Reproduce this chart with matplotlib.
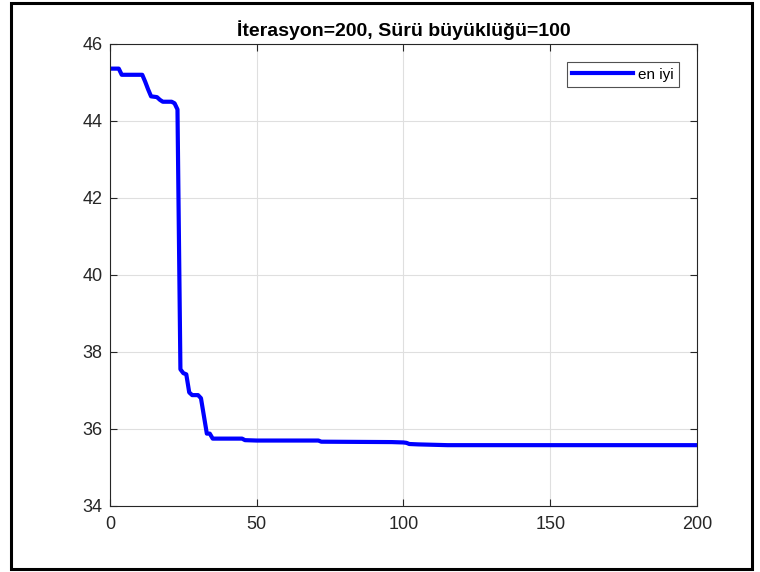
import numpy as np
import matplotlib.pyplot as plt
from matplotlib.patches import Rectangle

plt.rcParams['font.family'] = ['Liberation Sans', 'DejaVu Sans']

# en iyi degerin iterasyona gore degisimi (kirilma noktalari)
iterasyon = [1, 3, 4, 11, 12, 13, 14, 16, 17, 18, 21, 22, 23, 24,
             25, 26, 27, 28, 30, 31, 33, 34, 35, 45, 46, 50, 71, 72,
             96, 100, 101, 102, 105, 110, 115, 200]
en_iyi = [45.36, 45.36, 45.20, 45.20, 45.02, 44.82, 44.64, 44.62, 44.55,
          44.50, 44.50, 44.46, 44.30, 37.55, 37.45, 37.42, 36.95, 36.88,
          36.88, 36.80, 35.88, 35.88, 35.75, 35.75, 35.71, 35.70, 35.70,
          35.67, 35.66, 35.65, 35.64, 35.61, 35.60, 35.59, 35.58, 35.58]

x_ticks = [0, 50, 100, 150, 200]
y_ticks = [34, 36, 38, 40, 42, 44, 46]

fig = plt.figure(figsize=(7.6, 5.72), dpi=100)
ax = fig.add_axes([0.1447, 0.1154, 0.7724, 0.8077])

ax.plot(iterasyon, en_iyi, color='#0000ff', linewidth=3, label='en iyi')

ax.set_xlim(0, 200)
ax.set_ylim(34, 46)
ax.set_xticks(x_ticks)
ax.set_yticks(y_ticks)
ax.grid(True, color='#dfdfdf', linewidth=0.8)
ax.set_axisbelow(True)
ax.tick_params(direction='in', length=5, width=0.8, colors='#262626',
               labelsize=13, top=True, right=True,
               labeltop=False, labelright=False)
ax.tick_params(axis='x', pad=7)
ax.tick_params(axis='y', pad=5.5)
for s in ax.spines.values():
    s.set_color('#262626')
    s.set_linewidth(0.8)

ax.set_title('İterasyon=200, Sürü büyüklüğü=100', fontsize=14,
             fontweight='bold', pad=6)

leg = ax.legend(loc='upper right', bbox_to_anchor=(0.969, 0.960),
                fontsize=11, fancybox=False, handlelength=4,
                borderpad=0.35, handletextpad=0.3, borderaxespad=0)
leg.get_frame().set_edgecolor('#262626')
leg.get_frame().set_linewidth(0.8)

# cerceve
fig.patches.append(Rectangle((11 / 760, 3 / 572), 741 / 760, 566 / 572,
                             transform=fig.transFigure, fill=False,
                             edgecolor='black', linewidth=2.2))

fig.savefig('out.png', dpi=100)
